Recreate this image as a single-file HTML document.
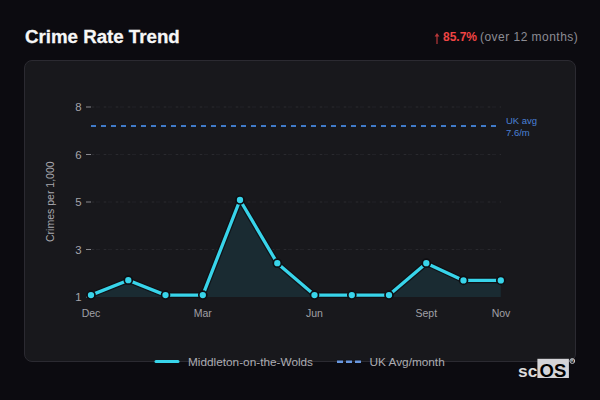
<!DOCTYPE html>
<html><head><meta charset="utf-8">
<style>
html,body{margin:0;padding:0;width:600px;height:400px;overflow:hidden;background:#0c0b10;}
body{position:relative;font-family:"Liberation Sans",sans-serif;}
.card{position:absolute;left:24px;top:60px;width:550px;height:300px;border:1px solid #2b2a31;border-radius:8px;background:#18181c;}
.title{position:absolute;left:25px;top:26px;font-size:18.7px;font-weight:bold;color:#f7f7f7;white-space:nowrap;-webkit-text-stroke:0.3px #f7f7f7;}
.chg span,.chg b{position:absolute;top:30px;font-size:12px;color:#8c8c94;white-space:nowrap;}
.chg .arr{color:#c9302c;}
.chg b{color:#ef4444;}
svg{position:absolute;left:0;top:0;}
</style></head><body>
<div class="title">Crime Rate Trend</div>
<div class="chg"><b style="left:443px">85.7%</b><span style="left:480px;letter-spacing:0.47px">(over 12 months)</span></div>
<div class="card"></div>
<svg width="600" height="400" viewBox="0 0 600 400" font-family="Liberation Sans, sans-serif">
  <g stroke="#212126" stroke-width="1" stroke-dasharray="4,8" stroke-dashoffset="-5">
    <line x1="91" y1="107" x2="501" y2="107"/>
    <line x1="91" y1="154.5" x2="501" y2="154.5"/>
    <line x1="91" y1="202" x2="501" y2="202"/>
    <line x1="91" y1="249.5" x2="501" y2="249.5"/>
  </g>
  <g stroke="#2a2a2f" stroke-width="1" stroke-dasharray="2.6,9.4" stroke-dashoffset="-0.7">
    <line x1="91" y1="107" x2="501" y2="107"/>
    <line x1="91" y1="154.5" x2="501" y2="154.5"/>
    <line x1="91" y1="202" x2="501" y2="202"/>
    <line x1="91" y1="249.5" x2="501" y2="249.5"/>
  </g>
  <g stroke="#88888e" stroke-width="1">
    <line x1="86" y1="107" x2="91" y2="107"/>
    <line x1="86" y1="154.5" x2="91" y2="154.5"/>
    <line x1="86" y1="202" x2="91" y2="202"/>
    <line x1="86" y1="249.5" x2="91" y2="249.5"/>
    <line x1="86" y1="297" x2="91" y2="297"/>
  </g>
  <g fill="#a4a4aa" font-size="11.4" text-anchor="end">
    <text x="81.5" y="111">8</text>
    <text x="81.5" y="158.5">6</text>
    <text x="81.5" y="206">5</text>
    <text x="81.5" y="253.5">3</text>
    <text x="81.5" y="301">1</text>
  </g>
  <g fill="#a0a0a6" font-size="10.5" text-anchor="middle">
    <text x="91" y="317">Dec</text>
    <text x="202.8" y="317">Mar</text>
    <text x="314.5" y="317">Jun</text>
    <text x="426.3" y="317">Sept</text>
    <text x="501" y="317">Nov</text>
  </g>
  <text transform="translate(53.5,201.7) rotate(-90)" fill="#a8a8ae" font-size="10.5" text-anchor="middle">Crimes per 1,000</text>
  <polygon fill="#1a2b32" points="91,297 91,295.1 128.3,280.2 165.5,295.1 202.8,295.1 240,200 277.3,263.2 314.5,295.1 351.8,295.1 389,295.1 426.3,263.2 463.5,280.4 500.8,280.4 500.8,297"/>
  <line x1="91" y1="126" x2="501" y2="126" stroke="#407ac8" stroke-width="2" stroke-dasharray="5,5"/>
  <g fill="#4a80d6" font-size="9.5">
    <text x="506" y="123.5">UK avg</text>
    <text x="506" y="135.5">7.6/m</text>
  </g>
  <polyline fill="none" stroke="#0e0e12" stroke-opacity="0.8" stroke-width="5.8" stroke-linejoin="round" points="91,295.1 128.3,280.2 165.5,295.1 202.8,295.1 240,200 277.3,263.2 314.5,295.1 351.8,295.1 389,295.1 426.3,263.2 463.5,280.4 500.8,280.4"/>
  <polyline fill="none" stroke="#38d4ea" stroke-width="3.3" stroke-linejoin="round" points="91,295.1 128.3,280.2 165.5,295.1 202.8,295.1 240,200 277.3,263.2 314.5,295.1 351.8,295.1 389,295.1 426.3,263.2 463.5,280.4 500.8,280.4"/>
  <g fill="#38d4ea" stroke="#0e0e12" stroke-width="1.7">
    <circle cx="91" cy="295.1" r="4"/>
    <circle cx="128.3" cy="280.2" r="4"/>
    <circle cx="165.5" cy="295.1" r="4"/>
    <circle cx="202.8" cy="295.1" r="4"/>
    <circle cx="240" cy="200" r="4"/>
    <circle cx="277.3" cy="263.2" r="4"/>
    <circle cx="314.5" cy="295.1" r="4"/>
    <circle cx="351.8" cy="295.1" r="4"/>
    <circle cx="389" cy="295.1" r="4"/>
    <circle cx="426.3" cy="263.2" r="4"/>
    <circle cx="463.5" cy="280.4" r="4"/>
    <circle cx="500.8" cy="280.4" r="4"/>
  </g>
  <path d="M437,44 V35" stroke="#b8383a" stroke-width="1.2"/>
  <path d="M434.6,36.6 L437,33 L439.4,36.6 Z" fill="#b8383a"/>
  <!-- legend -->
  <line x1="156" y1="361.5" x2="178" y2="361.5" stroke="#38d4ea" stroke-width="3" stroke-linecap="round"/>
  <text x="188" y="366" fill="#acacb2" font-size="11.8">Middleton-on-the-Wolds</text>
  <line x1="337" y1="361.8" x2="361" y2="361.8" stroke="#0e0e12" stroke-opacity="0.7" stroke-width="4" stroke-dasharray="6,3"/>
  <line x1="337" y1="361.8" x2="361" y2="361.8" stroke="#6a98e0" stroke-width="2.4" stroke-dasharray="6,3"/>
  <text x="369.5" y="366" fill="#acacb2" font-size="11.8">UK Avg/month</text>
  <!-- logo -->
  <text x="518" y="376.6" fill="#dcdcdc" font-size="17.4" font-weight="bold">sc</text>
  <rect x="537.4" y="358.8" width="31.5" height="19.2" fill="#d4d4d8"/>
  <text x="539.5" y="376.8" fill="#000" font-size="18.5" font-weight="bold">OS</text>
  <circle cx="572.3" cy="361" r="2.4" fill="none" stroke="#c8c8cc" stroke-width="1"/>
  <text x="572.3" y="362.4" fill="#c8c8cc" font-size="3.8" font-weight="bold" text-anchor="middle">R</text>
</svg>
</body></html>
